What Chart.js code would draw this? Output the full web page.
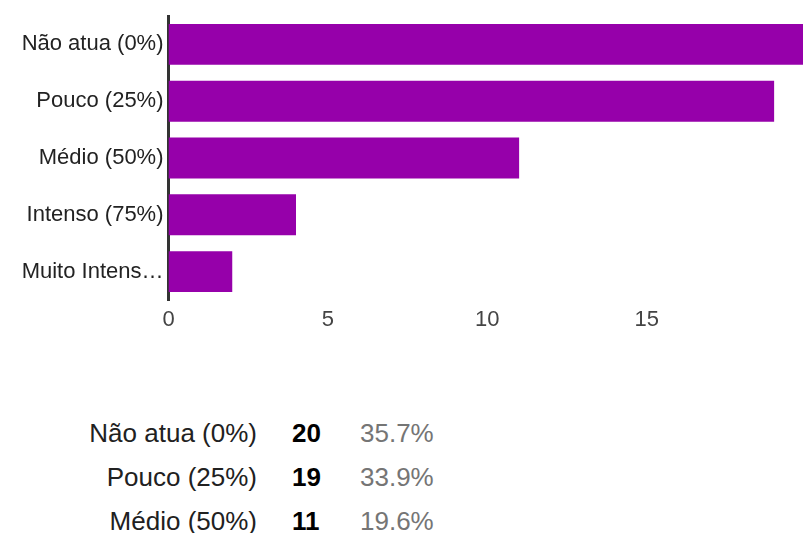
<!DOCTYPE html>
<html>
<head>
<meta charset="utf-8">
<script src="https://cdn.jsdelivr.net/npm/chart.js@4/dist/chart.umd.min.js"></script>
<style>
  html, body { margin: 0; padding: 0; background: #fff; width: 803px; height: 533px; overflow: hidden; }
  #chart { position: absolute; left: 0; top: 0; }
  .summary { position: absolute; left: 0; top: 0; font-family: "Liberation Sans", Arial, sans-serif; font-size: 26px; }
  .row { position: absolute; left: 0; height: 44px; line-height: 44px; white-space: nowrap; }
  .row .name { position: absolute; right: -257px; width: 240px; text-align: right; color: #212121; }
  .row .count { position: absolute; left: 292px; font-weight: bold; color: #000; }
  .row .pct { position: absolute; left: 360px; color: #757575; }
</style>
</head>
<body>
<canvas id="chart" width="806" height="345"></canvas>
<div class="summary" id="summary"></div>
<script>
// Answer options and how many responses each received
const categories = ['Não atua (0%)', 'Pouco (25%)', 'Médio (50%)', 'Intenso (75%)', 'Muito Intenso (100%)'];
const counts = [20, 19, 11, 4, 2];
const xTickValues = [0, 5, 10, 15];

const FONT = "'Liberation Sans', Arial, sans-serif";
const BAR_COLOR = '#9600aa';

// Shorten long category names so they fit left of the axis
const measureCtx = document.createElement('canvas').getContext('2d');
measureCtx.font = '22px ' + FONT;
function fitLabel(text, maxWidth) {
  if (measureCtx.measureText(text).width <= maxWidth) return text;
  let s = text;
  while (s.length > 1 && measureCtx.measureText(s + '…').width > maxWidth) s = s.slice(0, -1);
  return s.trimEnd() + '…';
}

new Chart(document.getElementById('chart'), {
  type: 'bar',
  data: {
    labels: categories,
    datasets: [{
      data: counts,
      backgroundColor: BAR_COLOR,
      borderWidth: 0,
      barPercentage: 0.72,
      categoryPercentage: 1
    }]
  },
  options: {
    indexAxis: 'y',
    responsive: false,
    animation: false,
    events: [],
    layout: { padding: { top: 15, right: 0, bottom: 4.6, left: 0 } },
    plugins: { legend: { display: false }, tooltip: { enabled: false } },
    scales: {
      x: {
        min: 0,
        max: 20,
        grid: { display: false, drawTicks: false },
        border: { display: false },
        ticks: { stepSize: 5, padding: 7, color: '#444', font: { family: FONT, size: 22 } },
        afterBuildTicks: (scale) => {
          scale.ticks = scale.ticks.filter(t => xTickValues.includes(t.value));
        }
      },
      y: {
        z: 1,
        grid: { display: false, drawTicks: false },
        border: { display: true, color: '#333', width: 3 },
        ticks: {
          padding: 5,
          color: '#222',
          font: { family: FONT, size: 22, lineHeight: 1 },
          callback: function (v) { return fitLabel(this.getLabelForValue(v), 145); }
        },
        afterFit: (scale) => { scale.width = 168.5; }
      }
    }
  }
});

// Summary table: count and share of each answer
const total = counts.reduce((a, b) => a + b, 0);
const summary = document.getElementById('summary');
categories.forEach((name, i) => {
  const row = document.createElement('div');
  row.className = 'row';
  row.style.top = (411 + i * 44) + 'px';
  row.innerHTML =
    '<span class="name"></span><span class="count"></span><span class="pct"></span>';
  row.querySelector('.name').textContent = name;
  row.querySelector('.count').textContent = counts[i];
  row.querySelector('.pct').textContent = (counts[i] / total * 100).toFixed(1) + '%';
  summary.appendChild(row);
});
</script>
</body>
</html>
